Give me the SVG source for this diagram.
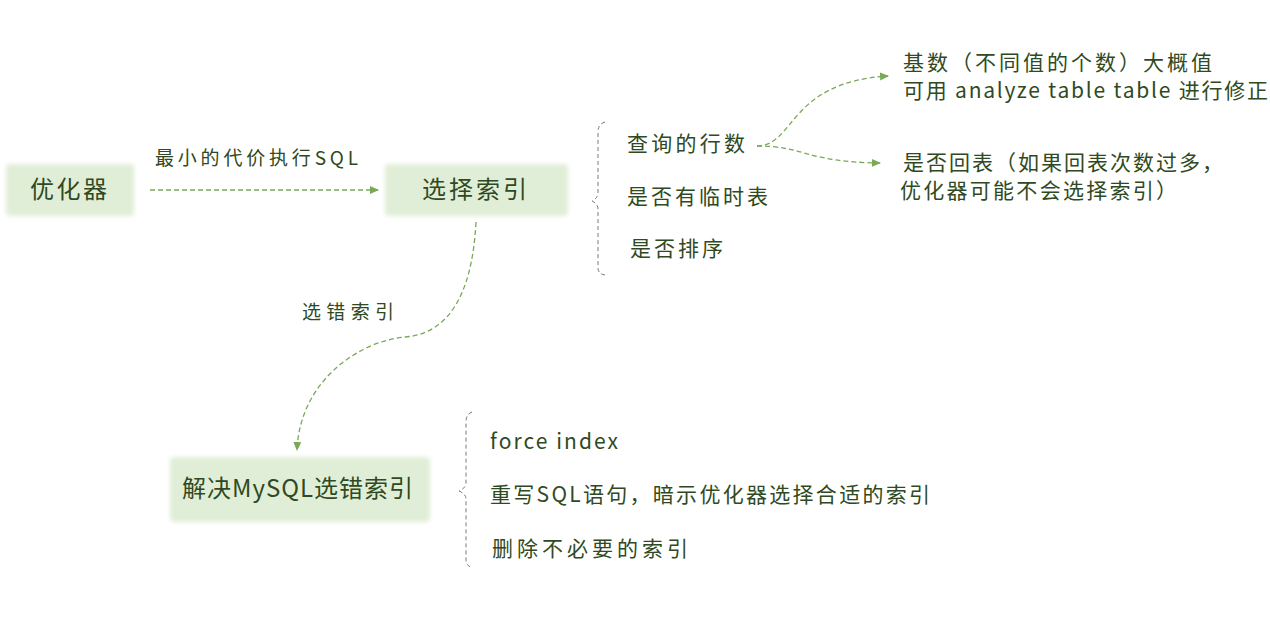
<svg xmlns="http://www.w3.org/2000/svg" width="1270" height="631" viewBox="0 0 1270 631">
<defs>
<style>
.t{font-family:"Noto Sans CJK SC","Noto Sans",sans-serif;fill:#2f4a22;}
.n{font-size:24px;}
.s{font-size:21px;}
.l{font-size:19px;}
.box{fill:#e1eed7;filter:url(#soft);}
.c{fill:none;stroke:#79a957;stroke-width:1.3;stroke-dasharray:5 3;}
.b{fill:none;stroke:#7a7a7a;stroke-width:1;stroke-dasharray:4 3;}
</style>
<filter id="soft" x="-10%" y="-20%" width="120%" height="140%"><feGaussianBlur stdDeviation="2"/></filter>
<marker id="ah" markerWidth="10" markerHeight="10" refX="8" refY="5" orient="auto" markerUnits="userSpaceOnUse">
<path d="M0,1 L9,5 L0,9 Z" fill="#79a957"/>
</marker>
</defs>
<rect width="1270" height="631" fill="#ffffff"/>
<g id="connectors">
<path class="c" d="M150,190 L378,190" marker-end="url(#ah)"/>
<path class="c" d="M757,146 C795,146 788,82 888,76" marker-end="url(#ah)"/>
<path class="c" d="M757,146 C805,146 805,162 880,163" marker-end="url(#ah)"/>
<path class="c" d="M476,222 C472,300 445,334 405,337 C360,341 300,380 297,450" marker-end="url(#ah)"/>
<text class="t l" x="155" y="165" textLength="203" lengthAdjust="spacing">最小的代价执行SQL</text>
<text class="t l" x="302" y="319" textLength="92" lengthAdjust="spacing">选错索引</text>
</g>
<g id="n1">
<rect class="box" x="6" y="164" width="128" height="52" rx="4"/>
<text class="t n" x="30" y="198" textLength="77" lengthAdjust="spacing">优化器</text>
</g>
<g id="n2">
<rect class="box" x="385" y="164" width="183" height="52" rx="4"/>
<text class="t n" x="422" y="198" textLength="105" lengthAdjust="spacing">选择索引</text>
</g>
<g id="n3">
<rect class="box" x="170" y="457" width="260" height="65" rx="4"/>
<text class="t n" x="182" y="497" textLength="231" lengthAdjust="spacing">解决MySQL选错索引</text>
</g>
<g id="factors">
<path class="b" d="M605,122 Q598,124 598,132 L598,193 Q598,198 592,201 Q598,204 598,209 L598,268 Q598,274 605,275"/>
<text class="t s" x="627" y="151" textLength="118" lengthAdjust="spacing">查询的行数</text>
<text class="t s" x="627" y="204" textLength="141" lengthAdjust="spacing">是否有临时表</text>
<text class="t s" x="630" y="256" textLength="93" lengthAdjust="spacing">是否排序</text>
</g>
<g id="cardinality">
<text class="t s" x="903" y="70" textLength="309" lengthAdjust="spacing">基数（不同值的个数）大概值</text>
<text class="t s" x="903" y="98" textLength="365" lengthAdjust="spacing">可用 analyze table table 进行修正</text>
</g>
<g id="lookup">
<text class="t s" x="903" y="170" textLength="320" lengthAdjust="spacing">是否回表（如果回表次数过多，</text>
<text class="t s" x="900" y="198" textLength="277" lengthAdjust="spacing">优化器可能不会选择索引）</text>
</g>
<g id="solutions">
<path class="b" d="M472,412 Q466,414 466,422 L466,483 Q466,488 459,491 Q466,494 466,499 L466,560 Q466,566 473,568"/>
<text class="t s" x="490" y="449" textLength="128" lengthAdjust="spacing">force index</text>
<text class="t s" x="490" y="502" textLength="440" lengthAdjust="spacing">重写SQL语句，暗示优化器选择合适的索引</text>
<text class="t s" x="492" y="556" textLength="196" lengthAdjust="spacing">删除不必要的索引</text>
</g>
</svg>
